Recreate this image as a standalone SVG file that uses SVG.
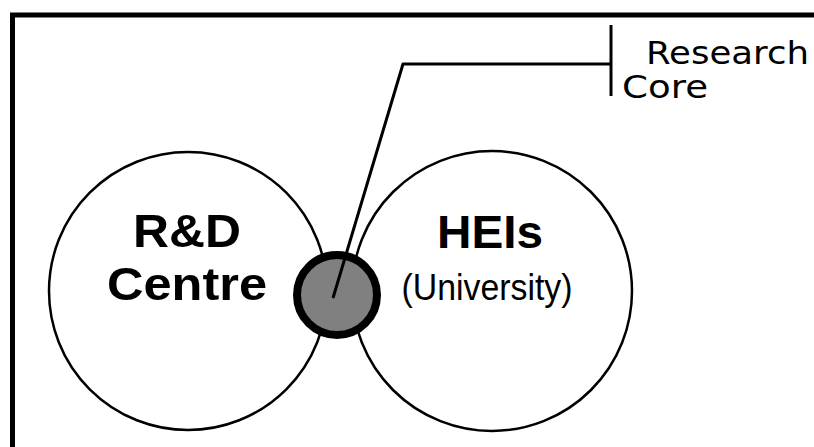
<svg xmlns="http://www.w3.org/2000/svg" width="814" height="447" viewBox="0 0 814 447">
  <style>
    .ring { fill: #fff; stroke: #000; stroke-width: 2.5; }
    .core { fill: #808080; stroke: #000; stroke-width: 8; }
    .lead { fill: none; stroke: #000; stroke-width: 3; stroke-linejoin: round; }
    .big { font-family: "Liberation Sans", Arial, sans-serif; font-weight: bold; font-size: 47px; text-anchor: middle; fill: #000; }
    .sub { font-family: "Liberation Sans", Arial, sans-serif; font-size: 37px; text-anchor: middle; fill: #000; }
    .lbl { font-family: "DejaVu Sans", Verdana, sans-serif; font-size: 32px; fill: #000; }
  </style>
  <rect width="814" height="447" fill="#fff"/>
  <!-- frame -->
  <path d="M12.5,447 V15 H814" fill="none" stroke="#000" stroke-width="5"/>

  <g id="rd-centre">
    <circle class="ring" cx="188" cy="291" r="139"/>
    <text class="big" x="187" y="247" textLength="108" lengthAdjust="spacingAndGlyphs">R&amp;D</text>
    <text class="big" x="187" y="300" textLength="160" lengthAdjust="spacingAndGlyphs">Centre</text>
  </g>

  <g id="heis">
    <circle class="ring" cx="492" cy="291" r="140"/>
    <text class="big" x="490" y="248" textLength="106" lengthAdjust="spacingAndGlyphs">HEIs</text>
    <text class="sub" x="487" y="300" textLength="171" lengthAdjust="spacingAndGlyphs">(University)</text>
  </g>

  <g id="research-core">
    <circle class="core" cx="337" cy="295" r="40"/>
  </g>

  <g id="connectors">
    <path class="lead" d="M333,298 L403,64 H611"/>
    <path class="lead" d="M611,25 V96"/>
  </g>

  <g id="research-core-label">
    <text class="lbl" x="646" y="64" textLength="163" lengthAdjust="spacingAndGlyphs">Research</text>
    <text class="lbl" x="622" y="98" textLength="86" lengthAdjust="spacingAndGlyphs">Core</text>
  </g>
</svg>
